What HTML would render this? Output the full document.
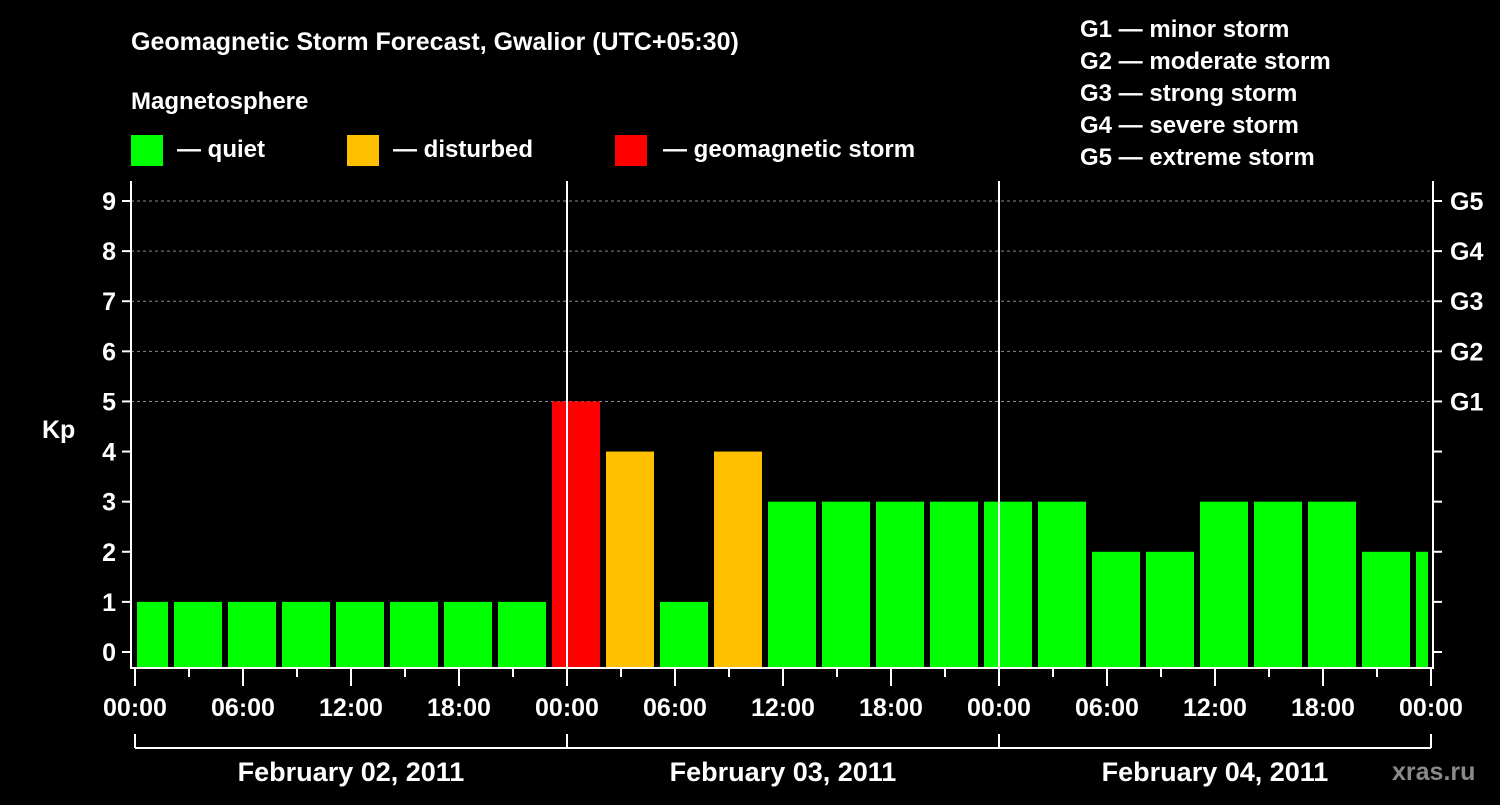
<!DOCTYPE html>
<html><head><meta charset="utf-8"><style>
body{margin:0;background:#000;width:1500px;height:800px;overflow:hidden}
svg text{font-family:"Liberation Sans",sans-serif;font-weight:bold;fill:#fff}
</style></head><body>
<svg width="1500" height="800">
<g>
<text x="131" y="50" font-size="25">Geomagnetic Storm Forecast, Gwalior (UTC+05:30)</text>
<text x="131" y="109" font-size="24">Magnetosphere</text>
<rect x="131" y="135" width="32" height="31" fill="#00ff00"/>
<text x="177" y="157" font-size="24">— quiet</text>
<rect x="347" y="135" width="32" height="31" fill="#ffc000"/>
<text x="393" y="157" font-size="24">— disturbed</text>
<rect x="615" y="135" width="32" height="31" fill="#ff0000"/>
<text x="663" y="157" font-size="24">— geomagnetic storm</text>
<text x="1080" y="37" font-size="24">G1 — minor storm</text>
<text x="1080" y="69" font-size="24">G2 — moderate storm</text>
<text x="1080" y="101" font-size="24">G3 — strong storm</text>
<text x="1080" y="133" font-size="24">G4 — severe storm</text>
<text x="1080" y="165" font-size="24">G5 — extreme storm</text>
<text x="42" y="438" font-size="25">Kp</text>
<text x="1392" y="780" font-size="25" fill="#888" style="fill:#8a8a8a">xras.ru</text>
</g>
<g id="plot"></g>
</svg>
<script>
const kpValues=[1,1,1,1,1,1,1,1,5,4,1,4,3,3,3,3,3,3,2,2,3,3,3,2,2];
const yTicks=[0,1,2,3,4,5,6,7,8,9];
const gLabels=["G1","G2","G3","G4","G5"];
const hourLabels=["00:00","06:00","12:00","18:00","00:00","06:00","12:00","18:00","00:00","06:00","12:00","18:00","00:00"];
const dayLabels=["February 02, 2011","February 03, 2011","February 04, 2011"];
const firstBarHour=-1;
const NS="http://www.w3.org/2000/svg";
const g=document.getElementById('plot');
const L=131,R=1433,T=181,B=668,X0=135,PX_H=18;
const xh=h=>X0+h*PX_H;
const yv=v=>652-v*50.11;
function mk(t,a,txt){const e=document.createElementNS(NS,t);for(const k in a)e.setAttribute(k,a[k]);if(txt!=null)e.textContent=txt;g.appendChild(e);return e;}
// grid
yTicks.forEach(v=>{if(v>=5){const e=mk('line',{x1:L,x2:R,y1:yv(v),y2:yv(v),stroke:'#888','stroke-dasharray':'3,3','stroke-width':1});

}});
// bars
kpValues.forEach((v,i)=>{let x1=xh(firstBarHour+3*i)+3,x2=xh(firstBarHour+3*i+3)-3;x1=Math.max(x1,137);x2=Math.min(x2,1428);
const c=v>=5?'#ff0000':v>=4?'#ffc000':'#00ff00';
const e=mk('rect',{x:x1,y:yv(v),width:x2-x1,height:B-yv(v),fill:c});

});
// day separators
[1,2].forEach(d=>{const e=mk('line',{x1:xh(24*d),x2:xh(24*d),y1:T,y2:B,stroke:'#fff','stroke-width':2});

});
// frame
const f=mk('path',{d:`M${L} ${T}V${B}H${R}V${T}`,stroke:'#fff','stroke-width':2,fill:'none'});


// y ticks
yTicks.forEach(v=>{mk('line',{x1:122,x2:L,y1:yv(v),y2:yv(v),stroke:'#fff','stroke-width':2});
mk('line',{x1:R,x2:1442,y1:yv(v),y2:yv(v),stroke:'#fff','stroke-width':2});
const t=mk('text',{x:116,y:yv(v)+9,'font-size':25,'text-anchor':'end'},v);

});
gLabels.forEach((s,i)=>{const t=mk('text',{x:1450,y:yv(5+i)+9,'font-size':25},s);

});
// x ticks
for(let h=0;h<=72;h+=3){const long=h%6===0;mk('line',{x1:xh(h),x2:xh(h),y1:B,y2:long?686:677,stroke:'#fff','stroke-width':2});}
hourLabels.forEach((s,i)=>{const t=mk('text',{x:xh(6*i),y:716,'font-size':25,'text-anchor':'middle'},s);

});
// day bracket
mk('line',{x1:xh(0),x2:xh(72),y1:748,y2:748,stroke:'#fff','stroke-width':2});
for(let d=0;d<=3;d++)mk('line',{x1:xh(24*d),x2:xh(24*d),y1:734,y2:748,stroke:'#fff','stroke-width':2});
dayLabels.forEach((s,i)=>{const t=mk('text',{x:xh(24*i+12),y:781,'font-size':27,'text-anchor':'middle'},s);

});
</script>
</body></html>
